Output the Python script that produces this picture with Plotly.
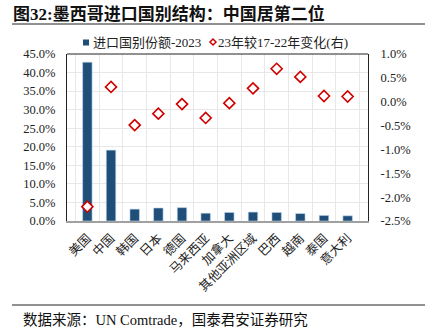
import plotly.graph_objects as go

countries = ["美国", "中国", "韩国", "日本", "德国", "马来西亚", "加拿大",
             "其他亚洲区域", "巴西", "越南", "泰国", "意大利"]
share_2023 = [42.8, 19.1, 3.2, 3.5, 3.6, 2.1, 2.3, 2.4, 2.3, 2.0, 1.5, 1.4]
change_vs_17_22 = [-2.2, 0.31, -0.49, -0.25, -0.05, -0.34, -0.03, 0.28, 0.69, 0.52, 0.12, 0.11]

left_ticks = [0, 5, 10, 15, 20, 25, 30, 35, 40, 45]
right_ticks = [-2.5, -2.0, -1.5, -1.0, -0.5, 0.0, 0.5, 1.0]

series_names = ["进口国别份额-2023", "23年较17-22年变化(右)"]

FONT = "Liberation Serif, Noto Sans CJK SC"
BAR_COLOR = "#1F4E79"
DOT_COLOR = "#D00000"

W, H = 425, 332
ML, MR, MT, MB = 67, 57, 54, 111
PW, PH = W - ML - MR, H - MT - MB


def px(x):
    """pixel x -> paper x"""
    return (x - ML) / PW


def py(y):
    """pixel y -> paper y"""
    return (H - MB - y) / PH


fig = go.Figure()
fig.add_trace(go.Bar(
    x=countries, y=share_2023, name=series_names[0],
    marker=dict(color=BAR_COLOR, line=dict(color="#BDD7EE", width=0.6)),
    width=0.4, yaxis="y", showlegend=False,
))
fig.add_trace(go.Scatter(
    x=countries, y=change_vs_17_22, name=series_names[1],
    mode="markers", yaxis="y2", showlegend=False,
    marker=dict(symbol="diamond", size=8.5, color="white",
                line=dict(color=DOT_COLOR, width=1.6)),
))

# legend keys drawn as shapes, labels as annotations
dx, dy = 213, 42
legend_shapes = [
    dict(type="rect", xref="paper", yref="paper",
         x0=px(83), x1=px(89), y0=py(45.5), y1=py(39.5),
         fillcolor=BAR_COLOR, line=dict(width=0)),
    dict(type="path", xref="paper", yref="paper",
         path=(f"M {px(dx - 3)} {py(dy)} L {px(dx)} {py(dy - 3)} "
               f"L {px(dx + 3)} {py(dy)} L {px(dx)} {py(dy + 3)} Z"),
         fillcolor="white", line=dict(color=DOT_COLOR, width=1.5)),
]

fig.update_layout(
    width=W, height=H,
    margin=dict(l=ML, r=MR, t=MT, b=MB),
    paper_bgcolor="white", plot_bgcolor="white",
    font=dict(family=FONT, size=12, color="#222"),
    showlegend=False,
    xaxis=dict(type="category", tickson="boundaries", showgrid=True,
               gridcolor="#E8E8E8", gridwidth=1, tickangle=-45,
               tickfont=dict(size=12.5, family=FONT), ticks="",
               ticklabelstandoff=3,
               showline=True, linecolor="#A0A0A0", linewidth=2,
               mirror=False, zeroline=False),
    yaxis=dict(range=[0, 45], tickvals=left_ticks,
               ticktext=[f"{v:.1f}%" for v in left_ticks],
               showgrid=True, gridcolor="#E8E8E8", gridwidth=1,
               tickfont=dict(size=12.5, family=FONT), ticks="",
               ticklabelstandoff=8,
               showline=True, linecolor="#222", linewidth=1, zeroline=False),
    yaxis2=dict(range=[-2.5, 1.0], tickvals=right_ticks,
                ticktext=[f"{v:.1f}%" for v in right_ticks],
                overlaying="y", side="right", showgrid=False,
                tickfont=dict(size=12.5, family=FONT), ticks="",
                ticklabelstandoff=9,
                showline=True, linecolor="#222", linewidth=1, zeroline=False),
    shapes=[
        # frame top edge
        dict(type="line", xref="paper", yref="paper", x0=0, x1=1, y0=1, y1=1,
             line=dict(color="#222", width=1)),
        # rule under the title
        dict(type="line", xref="paper", yref="paper", x0=px(12), x1=px(425),
             y0=py(24), y1=py(24), line=dict(color="#222", width=1)),
        # rule above the source note
        dict(type="line", xref="paper", yref="paper", x0=px(12), x1=px(425),
             y0=py(305), y1=py(305), line=dict(color="#222", width=1)),
    ] + legend_shapes,
    annotations=[
        dict(text="<b>图32:墨西哥进口国别结构：中国居第二位</b>", xref="paper", yref="paper",
             x=px(11), y=py(14), xanchor="left", yanchor="middle", showarrow=False,
             font=dict(size=17, family=FONT, color="#111")),
        dict(text=series_names[0], xref="paper", yref="paper",
             x=px(91), y=py(42), xanchor="left", yanchor="middle", showarrow=False,
             font=dict(size=13, family=FONT, color="#222")),
        dict(text=series_names[1], xref="paper", yref="paper",
             x=px(216), y=py(42), xanchor="left", yanchor="middle", showarrow=False,
             font=dict(size=13, family=FONT, color="#222")),
        dict(text="数据来源：UN Comtrade，国泰君安证券研究", xref="paper", yref="paper",
             x=px(21), y=py(320), xanchor="left", yanchor="middle", showarrow=False,
             font=dict(size=14.5, family=FONT, color="#111")),
    ],
)

fig.write_html("out.html")
